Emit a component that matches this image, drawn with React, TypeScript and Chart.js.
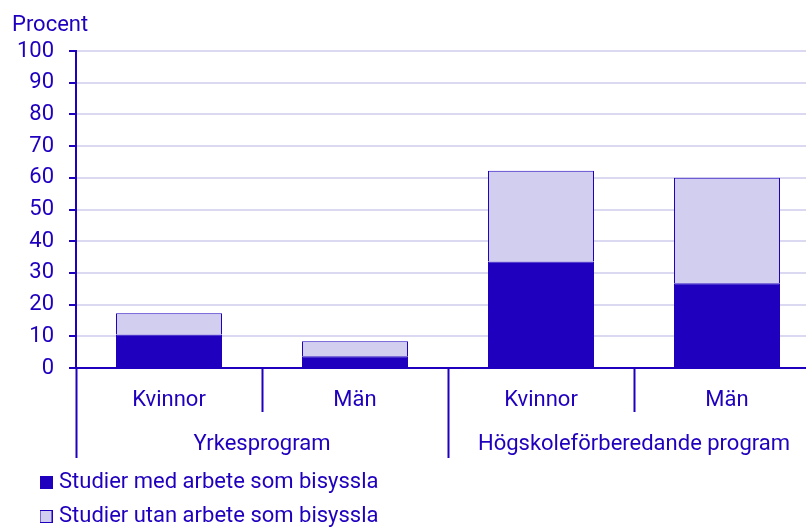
import React, { useEffect, useRef } from 'react';
import { Chart, registerables } from 'chart.js';

Chart.register(...registerables);

const categories = ['Kvinnor', 'Män', 'Kvinnor', 'Män'];
const groups = ['Yrkesprogram', 'Högskoleförberedande program'];
const seriesLabels = ['Studier med arbete som bisyssla', 'Studier utan arbete som bisyssla'];
const medArbete = [10.6, 3.7, 33.6, 26.7];
const utanArbete = [6.7, 4.7, 28.6, 33.3];
const yAxisTitle = 'Procent';
const yMin = 0;
const yMax = 100;
const yStep = 10;

const DARK = '#1E00BE';
const LIGHT = '#D2CEF0';
const GRID = '#DBD9F2';
const FONT_FAMILY = 'Roboto';
const FONT_SIZE = 22;

const LEGEND_X = 32;
const LEGEND_W = 420;
const LEGEND_TOP = 459.5;
const LEGEND_H = 72;

function makeBox(fill: string, stroke: string): HTMLCanvasElement {
  const c = document.createElement('canvas');
  c.width = 13;
  c.height = 13;
  const ctx = c.getContext('2d')!;
  ctx.fillStyle = fill;
  ctx.fillRect(0, 0, 13, 13);
  ctx.strokeStyle = stroke;
  ctx.lineWidth = 1;
  ctx.strokeRect(0.5, 0.5, 12, 12);
  return c;
}

const legendLayout = {
  id: 'legendLayout',
  beforeLayout(chart: any) {
    const lg = chart.legend;
    if (lg && !lg.__wrapped) {
      const orig = lg.update.bind(lg);
      lg.update = (mw: number, mh: number, m: any) => {
        orig(Math.min(mw, LEGEND_W), mh, m);
        lg.height = LEGEND_H;
      };
      lg.__wrapped = true;
    }
  },
  afterLayout(chart: any) {
    const lg = chart.legend;
    if (lg) {
      lg.left = LEGEND_X;
      lg.right = LEGEND_X + LEGEND_W;
      lg.width = LEGEND_W;
      lg.top = LEGEND_TOP;
      lg.bottom = LEGEND_TOP + LEGEND_H;
    }
  },
};

export default function App() {
  const ref = useRef<HTMLCanvasElement>(null);

  useEffect(() => {
    if (!ref.current) return;
    Chart.defaults.font.family = FONT_FAMILY;
    Chart.defaults.font.size = FONT_SIZE;
    Chart.defaults.color = DARK;
    const boxes = [makeBox(DARK, DARK), makeBox(LIGHT, DARK)];

    const chart = new Chart(ref.current, {
      type: 'bar',
      data: {
        labels: categories,
        datasets: [
          {
            label: seriesLabels[0],
            data: medArbete,
            backgroundColor: DARK,
            borderColor: DARK,
            borderWidth: 1,
            barPercentage: 0.57,
            categoryPercentage: 1,
          },
          {
            label: seriesLabels[1],
            data: utanArbete,
            backgroundColor: LIGHT,
            borderColor: DARK,
            borderWidth: 1,
            barPercentage: 0.57,
            categoryPercentage: 1,
          },
        ],
      },
      options: {
        responsive: false,
        animation: false,
        devicePixelRatio: 1,
        layout: { padding: { left: 12, right: 0, top: 0, bottom: 0 } },
        scales: {
          x: {
            stacked: true,
            offset: true,
            grid: {
              display: true,
              offset: true,
              drawOnChartArea: false,
              drawTicks: true,
              tickLength: 44,
              tickColor: DARK,
              tickWidth: 2,
              color: DARK,
            },
            border: { display: true, color: DARK, width: 2 },
            ticks: {
              color: DARK,
              font: { family: FONT_FAMILY, size: FONT_SIZE },
              padding: -24.4,
              maxRotation: 0,
              autoSkip: false,
            },
            afterFit: (scale: any) => {
              scale.height = 44;
            },
          },
          x2: {
            type: 'category',
            labels: groups,
            position: 'bottom',
            offset: true,
            grid: {
              display: true,
              offset: true,
              drawOnChartArea: false,
              drawTicks: true,
              tickLength: 46,
              tickColor: DARK,
              tickWidth: 2,
              color: DARK,
            },
            border: { display: false },
            ticks: {
              color: DARK,
              font: { family: FONT_FAMILY, size: FONT_SIZE },
              padding: -26.3,
              maxRotation: 0,
              autoSkip: false,
            },
            afterFit: (scale: any) => {
              scale.height = 46;
            },
          },
          y: {
            stacked: true,
            min: yMin,
            max: yMax,
            grid: {
              color: GRID,
              lineWidth: 2,
              tickColor: DARK,
              tickWidth: 2,
              tickLength: 7,
            },
            border: { display: true, color: DARK, width: 2 },
            ticks: {
              stepSize: yStep,
              color: DARK,
              font: { family: FONT_FAMILY, size: FONT_SIZE },
              padding: 15,
            },
            afterFit: (scale: any) => {
              scale.width = 64;
            },
          },
        } as any,
        plugins: {
          title: {
            display: true,
            text: yAxisTitle,
            align: 'start',
            color: DARK,
            font: { family: FONT_FAMILY, size: FONT_SIZE, weight: 'normal' },
            padding: { top: 12.6, bottom: 12 },
          },
          legend: {
            display: true,
            position: 'bottom',
            align: 'start',
            labels: {
              color: DARK,
              font: { family: FONT_FAMILY, size: FONT_SIZE },
              padding: 12,
              usePointStyle: true,
              pointStyleWidth: 4,
              generateLabels: (ch: any) => {
                const items = (Chart.defaults.plugins.legend.labels as any).generateLabels(ch);
                items.forEach((it: any, i: number) => {
                  it.pointStyle = boxes[i];
                });
                return items;
              },
            },
          },
          tooltip: { enabled: false },
        },
      },
      plugins: [legendLayout as any],
    });
    return () => chart.destroy();
  }, []);

  return (
    <div style={{ position: 'absolute', left: 0, top: 0, width: 806, height: 530, overflow: 'hidden' }}>
      <canvas ref={ref} width={820} height={530} style={{ display: 'block' }} />
    </div>
  );
}
